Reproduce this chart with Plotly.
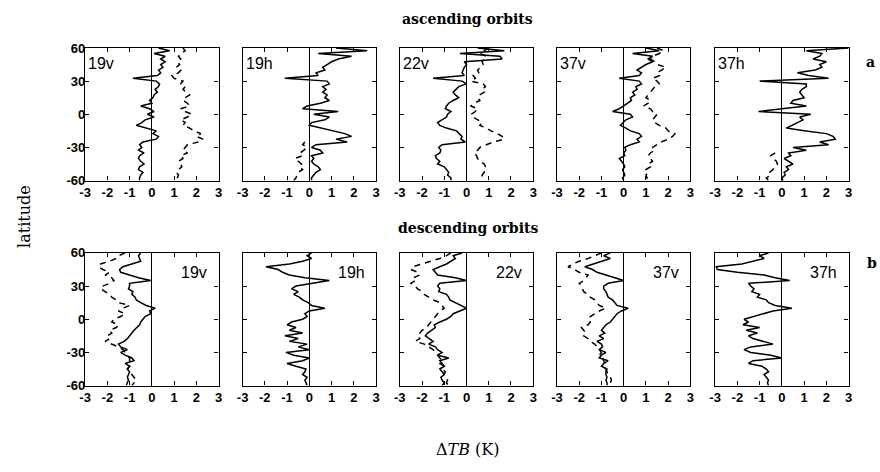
import plotly.graph_objects as go

# ---------------- data ----------------
LAT = [60, 57.5, 55, 52.5, 50, 47.5, 45, 42.5, 40,
       37.5, 35, 32.5, 30, 27.5, 25, 22.5, 20,
       17.5, 15, 12.5, 10, 7.5, 5, 2.5, 0,
       -2.5, -5, -7.5, -10, -12.5, -15, -17.5, -20,
       -22.5, -25, -27.5, -30, -32.5, -35, -37.5, -40,
       -42.5, -45, -47.5, -50, -52.5, -55, -57.5, -60]

CHANNELS = ["19v", "19h", "22v", "37v", "37h"]
X_TICKS = [-3, -2, -1, 0, 1, 2, 3]
X_TICK_LABELS = ["-3", "-2", "-1", "0", "1", "2", "3"]
Y_TICKS = [-60, -30, 0, 30, 60]
Y_TICK_LABELS = ["-60", "-30", "0", "30", "60"]

# ascending orbits
asc_19v_solid = [0.3, 0.8, 0.1, 0.6, 0.4, 0.6, 0.4, 0.5, 0.3,
                 0.4, 0.25, -0.85, 0.2, 0.35, 0.3, 0.15, 0.25,
                 0.1, 0.05, -0.1, 0.0, -0.5, -0.1, 0.1, -0.2,
                 0.1, -0.3, -0.45, -0.7, -0.2, 0.2, 0.05, 0.3,
                 0.2, -0.4, -0.55, -0.45, -0.6, -0.35, -0.55, -0.6,
                 -0.5, -0.35, -0.55, -0.6, -0.4, -0.5, -0.55, -0.55]
asc_19v_dash = [1.4, 1.5, 1.3, 1.2, 1.3, 1.15, 1.25, 1.1, 1.3,
                1.2, 0.9, 1.0, 1.4, 1.3, 1.5, 1.4, 1.55,
                1.7, 1.5, 1.4, 1.6, 1.7, 1.3, 1.5, 1.8,
                1.6, 1.3, 1.5, 1.4, 1.7, 1.9, 2.2, 2.0,
                2.3, 2.1, 1.6, 1.5, 1.4, 1.6, 1.3, 1.4,
                1.2, 1.3, 1.35, 1.2, 1.1, 1.2, 1.15, 1.2]

asc_19h_solid = [1.2, 2.6, 0.4, 1.9, 1.3, 1.0, 0.8, 0.6, 0.7,
                 0.3, 0.4, -1.1, 0.8, 0.9, 0.6, 0.75, 0.6,
                 0.8, 0.7, 0.9, 0.5, -0.1, -0.3, 1.3, 0.2,
                 0.9, 0.7, 0.1, 0.0, 0.5, 1.0, 1.6, 1.9,
                 1.2, 1.7, 0.3, 0.1, 0.5, 0.6, 0.1, 0.2,
                 0.1, 0.2, 0.4, 0.5, 0.3, 0.2, 0.1, 0.1]
asc_19h_dash = [None] * 34 + [-0.2, -0.3, -0.1, -0.25, -0.4, -0.3, -0.65,
                              -0.5, -0.35, -0.45, -0.3, -0.5, -0.55, -0.6, -0.7]

asc_22v_solid = [0.5, 1.7, -0.3, 1.5, 1.6, -0.1, 0.0, -0.1, -0.15,
                 -0.2, -0.1, -1.5, -0.2, 0.0, -0.35, -0.5, -0.6,
                 -0.5, -0.35, -0.6, -0.8, -0.9, -0.95, -0.7, -0.85,
                 -0.9, -1.1, -1.3, -1.2, -0.9, -0.45, -0.3, -0.2,
                 -0.25, -0.05, -1.1, -1.25, -1.15, -1.2, -1.4, -1.35,
                 -1.2, -1.3, -1.0, -0.9, -0.8, -0.85, -0.7, -0.7]
asc_22v_dash = [1.0, 0.8, 0.6, 0.9, 0.8, 0.7, 0.75, 0.6, 0.5,
                0.55, 0.3, 0.4, 0.2, 0.75, 0.85, 0.7, 0.8,
                0.6, 0.5, 0.6, 0.35, 0.2, 0.5, 0.4, 0.2,
                0.3, 0.5, 0.7, 0.6, 0.9, 1.1, 1.4, 1.6,
                1.7, 1.2, 0.9, 0.6, 0.5, 0.35, 0.45, 0.5,
                0.6, 0.8, 0.85, 0.75, 0.8, 0.7, 0.75, 0.8]

asc_37v_solid = [1.0, 1.6, 0.4, 1.3, 1.1, 1.3, 1.0, 0.8, 0.6,
                 0.8, 0.7, -0.2, 0.7, 0.8, 0.55, 0.6, 0.4,
                 0.5, 0.3, 0.35, 0.2, 0.0, -0.2, -0.5, 0.3,
                 0.4, 0.1, -0.05, -0.15, 0.1, 0.3, 0.7, 0.8,
                 0.6, 0.7, 0.3, 0.05, 0.1, 0.0, 0.05, -0.2,
                 -0.1, 0.0, 0.05, -0.05, 0.0, 0.05, -0.05, 0.0]
asc_37v_dash = [1.5, 1.8, 1.6, 1.3, 1.2, 1.4, 1.5, 1.9, 1.7,
                1.5, 1.6, 1.3, 1.5, 1.6, 1.4, 1.3, 1.2,
                1.1, 1.0, 1.2, 1.1, 0.9, 1.2, 1.3, 1.5,
                1.4, 1.3, 1.4, 1.6, 1.9, 2.0, 2.3, 2.2,
                2.0, 1.7, 1.5, 1.3, 1.4, 1.2, 1.1, 1.2,
                1.3, 1.1, 1.2, 1.0, 1.1, 1.0, 1.05, 1.0]

asc_37h_solid = [3.0, 1.1, 1.8, 1.7, 1.4, 2.0, 1.7, 1.8, 1.5,
                 0.7, 1.2, 2.1, -1.0, 1.1, 1.1, 0.9, 0.8,
                 0.9, 1.0, 0.5, 0.4, 1.1, 0.1, -1.05, 1.3,
                 0.8, 0.95, 0.7, 0.4, 0.2, 1.0, 2.0, 2.3,
                 2.4, 1.7, 2.1, 0.5, 1.1, 0.3, 0.4, 0.1,
                 0.3, 0.5, 0.2, 0.3, 0.1, 0.15, 0.0, 0.05]
asc_37h_dash = [None] * 38 + [-0.3, -0.5, -0.4, -0.25, -0.2, -0.35,
                              -0.4, -0.55, -0.5, -0.7, -0.6]

# descending orbits
desc_19v_solid = [-0.5, -0.6, -0.55, -0.5, -0.9, -1.3, -1.45, -1.4, -1.0,
                  -0.6, -0.05, -1.0, -1.0, -1.05, -0.85, -0.9, -0.75,
                  -0.7, -0.5, -0.25, 0.15, -0.1, -0.05, -0.3, -0.4,
                  -0.5, -0.55, -0.7, -0.8, -0.9, -1.0, -1.1, -1.25,
                  -1.5, -1.4, -1.1, -1.4, -1.2, -0.9, -0.8, -1.2,
                  -1.0, -1.1, -1.0, -1.05, -1.1, -1.05, -1.1, -1.15]
desc_19v_dash = [-1.2, -1.5, -1.6, -1.9, -2.3, -2.4, -2.2, -1.9, -2.1,
                 -1.8, -1.7, -1.9, -2.2, -2.3, -2.1, -1.9, -1.8,
                 -1.6, -1.5, -1.0, -1.3, -1.5, -1.2, -1.4, -1.7,
                 -1.8, -1.5, -1.6, -1.9, -1.8, -2.0, -1.9, -2.1,
                 -1.8, -1.5, -1.3, -1.2, -1.1, -1.0, -1.0, -0.9,
                 -1.0, -1.1, -0.95, -0.9, -0.8, -0.7, -0.8, -0.9]

desc_19h_solid = [0.1, -0.1, 0.1, -0.3, -0.9, -1.95, -1.4, -1.2, -0.9,
                  -0.2, 0.9, 0.2, -0.6, -0.8, -0.5, -0.7, -0.45,
                  -0.3, -0.05, 0.1, 0.7, 0.0, -0.2, -0.1, -0.3,
                  -0.8, -1.0, -0.6, -0.9, -0.3, -1.1, -0.5, -0.9,
                  -0.1, -0.5, 0.0, -1.05, -0.7, 0.0, -0.3, -1.0,
                  -0.6, -0.15, -0.2, -0.3, -0.1, -0.2, -0.15, -0.1]
desc_19h_dash = None

desc_22v_solid = [-0.2, -0.6, -0.5, -0.7, -0.9, -1.2, -1.5, -1.4, -1.3,
                  -0.5, 0.0, -1.2, -1.3, -1.2, -1.25, -0.9, -0.8,
                  -0.75, -0.5, -0.3, 0.0, -0.3, -0.6, -0.7, -0.9,
                  -1.2, -1.45, -1.4, -1.6, -1.75, -1.85, -1.7, -1.5,
                  -1.7, -1.4, -1.3, -1.1, -1.3, -0.8, -1.2, -1.1,
                  -1.0, -1.2, -1.1, -1.0, -1.15, -1.1, -1.0, -1.1]
desc_22v_dash = [-0.7, -0.9, -1.2, -1.6, -2.0, -2.4, -2.5, -2.2, -2.1,
                 -2.4, -2.3, -2.5, -2.3, -2.2, -2.0, -1.9, -1.7,
                 -1.5, -1.2, -1.1, -1.0, -1.2, -1.3, -1.4, -1.5,
                 -1.6, -1.7, -1.8, -2.0, -2.1, -2.2, -2.1, -2.3,
                 -1.9, -1.7, -1.5, -1.4, -1.3, -1.2, -1.1, -1.2,
                 -1.0, -1.1, -0.95, -1.0, -0.9, -0.85, -0.9, -0.8]

desc_37v_solid = [-0.6, -0.9, -0.6, -0.95, -1.3, -1.75, -1.4, -1.2, -0.8,
                  -0.4, 0.0, -0.7, -0.9, -0.9, -0.8, -0.75, -0.7,
                  -0.5, -0.4, -0.3, 0.2, -0.1, -0.3, -0.4, -0.5,
                  -0.6, -0.8, -0.9, -1.0, -0.85, -1.1, -0.9, -1.2,
                  -1.0, -0.95, -1.1, -0.8, -1.0, -1.1, -0.7, -0.9,
                  -1.0, -0.75, -0.8, -0.8, -0.75, -0.8, -0.75, -0.75]
desc_37v_dash = [-1.0, -1.3, -1.6, -2.0, -2.3, -2.5, -2.2, -2.0, -1.6,
                 -1.7, -1.8, -2.0, -1.9, -1.85, -1.8, -1.6, -1.5,
                 -1.3, -1.2, -1.1, -0.8, -1.1, -1.3, -1.5, -1.6,
                 -1.5, -1.6, -1.9, -1.8, -1.7, -1.8, -1.6, -1.5,
                 -1.3, -1.2, -1.1, -1.0, -1.1, -0.95, -0.9, -0.85,
                 -0.9, -0.8, -0.75, -0.7, -0.6, -0.55, -0.6, -0.65]

desc_37h_solid = [-0.6, -1.0, -0.8, -1.3, -1.8, -2.95, -2.9, -2.0, -0.8,
                  -0.3, 0.35, -1.5, -1.4, -1.25, -1.35, -1.0, -1.1,
                  -0.7, -0.6, -0.3, 0.45, -0.4, -0.8, -1.2, -1.7,
                  -1.5, -1.75, -1.0, -1.6, -1.1, -1.5, -1.3, -0.9,
                  -0.4, -1.4, -1.7, -1.4, -0.5, 0.0, -1.3, -1.5,
                  -0.9, -0.7, -0.6, -0.8, -0.7, -0.6, -0.65, -0.6]
desc_37h_dash = None

ASC = [(asc_19v_solid, asc_19v_dash), (asc_19h_solid, asc_19h_dash),
       (asc_22v_solid, asc_22v_dash), (asc_37v_solid, asc_37v_dash),
       (asc_37h_solid, asc_37h_dash)]
DESC = [(desc_19v_solid, desc_19v_dash), (desc_19h_solid, desc_19h_dash),
        (desc_22v_solid, desc_22v_dash), (desc_37v_solid, desc_37v_dash),
        (desc_37h_solid, desc_37h_dash)]

# ---------------- layout ----------------
W, H = 880, 472
PANEL_LEFT = [80, 239.3, 398.3, 557.3, 717.3]
PANEL_W = 135
ROW_TOP = [42.3, 254]
ROW_H = 137

SANS = "Liberation Sans, Arial, sans-serif"
SERIF = "DejaVu Serif, serif"
TICKFONT = dict(family=SANS, size=13, color="black", weight=700)

fig = go.Figure()
layout = dict(
    width=W, height=H,
    margin=dict(l=0, r=0, t=0, b=0),
    paper_bgcolor="white", plot_bgcolor="white",
    showlegend=False,
)
annotations = []

for r, rows in enumerate([ASC, DESC]):
    for c, (solid, dash) in enumerate(rows):
        idx = r * 5 + c + 1
        sfx = "" if idx == 1 else str(idx)
        xd = [PANEL_LEFT[c] / W, (PANEL_LEFT[c] + PANEL_W) / W]
        yd = [1 - (ROW_TOP[r] + ROW_H) / H, 1 - ROW_TOP[r] / H]
        layout[f"xaxis{sfx}"] = dict(
            domain=xd, range=[-3, 3], anchor=f"y{sfx}",
            tickvals=X_TICKS, ticktext=X_TICK_LABELS,
            ticks="inside", ticklen=4, tickwidth=1, tickcolor="black",
            showline=True, linecolor="black", linewidth=1.3, mirror="ticks",
            zeroline=True, zerolinecolor="black", zerolinewidth=1,
            showgrid=False, fixedrange=True, ticklabelstandoff=0,
            tickfont=TICKFONT,
        )
        layout[f"yaxis{sfx}"] = dict(
            domain=yd, range=[-60, 60], anchor=f"x{sfx}",
            tickvals=Y_TICKS, ticktext=Y_TICK_LABELS,
            ticks="inside", ticklen=4, tickwidth=1, tickcolor="black",
            showline=True, linecolor="black", linewidth=1.3, mirror="ticks",
            zeroline=False, showgrid=False, fixedrange=True,
            showticklabels=(c == 0), ticklabelstandoff=-4,
            tickfont=TICKFONT,
        )
        xa, ya = f"x{sfx}", f"y{sfx}"
        fig.add_trace(go.Scatter(
            x=solid, y=LAT, mode="lines", xaxis=xa, yaxis=ya,
            line=dict(color="black", width=1.5), hoverinfo="skip"))
        if dash is not None:
            fig.add_trace(go.Scatter(
                x=dash, y=LAT, mode="lines", xaxis=xa, yaxis=ya,
                line=dict(color="black", width=1.5, dash="6px,5px"),
                connectgaps=False, hoverinfo="skip"))
        if r == 0:
            annotations.append(dict(
                text=CHANNELS[c], xref=f"x{sfx} domain", yref=f"y{sfx} domain",
                x=0.01, y=0.88, xanchor="left", yanchor="middle", showarrow=False,
                font=dict(family=SANS, size=16, color="black")))
        else:
            annotations.append(dict(
                text=CHANNELS[c], xref=f"x{sfx} domain", yref=f"y{sfx} domain",
                x=0.93, y=0.85, xanchor="right", yanchor="middle", showarrow=False,
                font=dict(family=SANS, size=16, color="black")))

def paper(xpx, ypx):
    return xpx / W, 1 - ypx / H

for text, (px, py), font, kw in [
    ("<b>ascending orbits</b>", (467, 12), dict(family=SERIF, size=14), {}),
    ("<b>descending orbits</b>", (467, 228), dict(family=SERIF, size=14), {}),
    ("<b>a</b>", (874, 57), dict(family=SERIF, size=14), {}),
    ("<b>b</b>", (876, 264), dict(family=SERIF, size=14), {}),
    ("latitude", (18, 216), dict(family=SERIF, size=16), dict(textangle=-90)),
    ("Δ<i>TB</i> (K)", (467, 457), dict(family=SERIF, size=16), {}),
]:
    x, y = paper(px, py)
    font = dict(font, color="black")
    annotations.append(dict(text=text, xref="paper", yref="paper", x=x, y=y,
                            xanchor="center", yanchor="middle", showarrow=False,
                            font=font, **kw))

layout["annotations"] = annotations
fig.update_layout(**layout)
fig.write_html("out.html")
